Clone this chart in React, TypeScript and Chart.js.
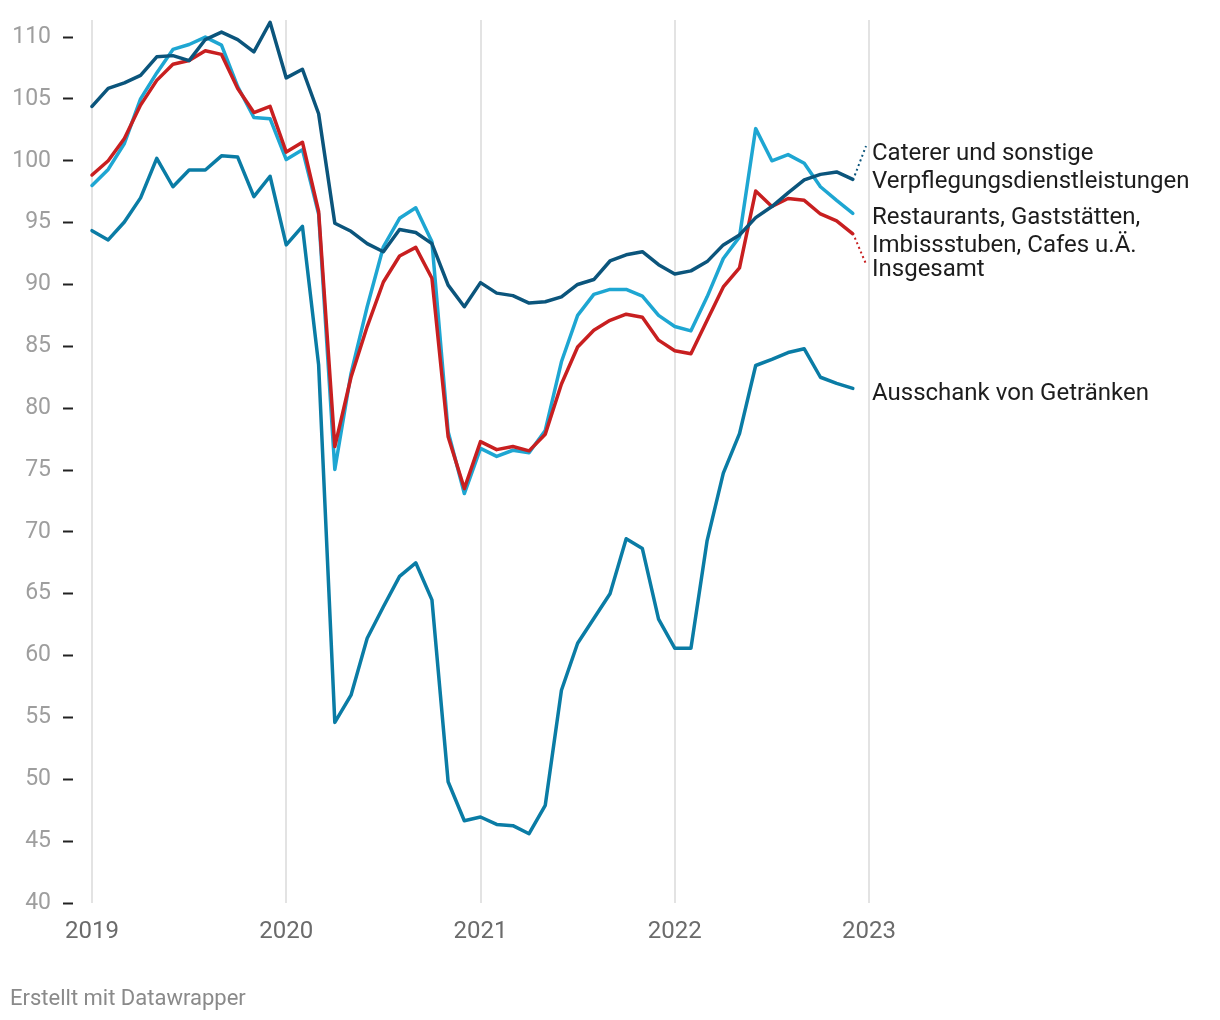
import { useEffect, useRef } from "react";
import { Chart, registerables } from "chart.js";

Chart.register(...registerables);

// Monthly index values, Jan 2019 – Dec 2022 (2015 = 100)
const caterer = [
  104.4, 105.85, 106.3, 106.9, 108.4, 108.5, 108.1, 109.8, 110.4, 109.8, 108.8, 111.2,
  106.7, 107.4, 103.8, 94.95, 94.3, 93.3, 92.65, 94.45, 94.2, 93.3, 89.95, 88.2,
  90.15, 89.3, 89.1, 88.5, 88.6, 89.0, 90.0, 90.4, 91.9, 92.4, 92.65, 91.6,
  90.85, 91.1, 91.85, 93.2, 94.0, 95.4, 96.3, 97.4, 98.45, 98.9, 99.1, 98.5,
];
const restaurants = [
  98.0, 99.3, 101.4, 105.0, 107.1, 109.0, 109.4, 110.0, 109.35, 106.0, 103.5, 103.4,
  100.1, 100.9, 95.7, 75.05, 82.8, 88.2, 93.05, 95.35, 96.2, 93.45, 78.1, 73.1,
  76.75, 76.1, 76.6, 76.4, 78.2, 83.75, 87.5, 89.2, 89.6, 89.6, 89.05, 87.5,
  86.6, 86.25, 89.0, 92.1, 93.85, 102.6, 100.0, 100.5, 99.8, 97.9, 96.8, 95.75,
];
const insgesamt = [
  98.85, 100.0, 101.8, 104.5, 106.5, 107.8, 108.1, 108.9, 108.6, 105.85, 103.9, 104.4,
  100.7, 101.5, 95.9, 76.9, 82.5, 86.6, 90.2, 92.3, 93.0, 90.5, 77.7, 73.5,
  77.3, 76.65, 76.9, 76.55, 77.9, 81.95, 84.95, 86.3, 87.1, 87.6, 87.35, 85.5,
  84.65, 84.4, 87.1, 89.8, 91.35, 97.55, 96.3, 96.95, 96.8, 95.7, 95.15, 94.1,
];
const ausschank = [
  94.35, 93.6, 95.05, 97.0, 100.2, 97.9, 99.25, 99.25, 100.4, 100.3, 97.1, 98.75,
  93.2, 94.7, 83.5, 54.6, 56.8, 61.4, 63.95, 66.4, 67.5, 64.5, 49.8, 46.65,
  46.95, 46.35, 46.25, 45.6, 47.9, 57.2, 61.0, 63.0, 65.0, 69.45, 68.65, 62.95,
  60.6, 60.6, 69.3, 74.75, 77.95, 83.45, 83.95, 84.5, 84.8, 82.5, 82.0, 81.6,
];

const yearLabels = ["2019", "2020", "2021", "2022", "2023"];
const yearTickMonths = [0, 12, 24, 36, 48];

const seriesNames = [
  "Caterer und sonstige Verpflegungsdienstleistungen",
  "Insgesamt",
  "Restaurants, Gaststätten, Imbissstuben, Cafes u.Ä.",
  "Ausschank von Getränken",
];
const seriesColors = ["#0b557c", "#c81f20", "#1ea6d2", "#0a7ca5"];
const seriesValues = [caterer, insgesamt, restaurants, ausschank];

const FONT = "Roboto, 'Noto Sans', sans-serif";

const labelPlugin = {
  id: "labels",
  afterDatasetsDraw(chart: any) {
    const ctx = chart.ctx;
    const area = chart.chartArea;
    ctx.save();
    // dotted connectors
    const connectors: [number, number, number][] = [
      [0, area.right - 3, 146],
      [1, area.right - 3, 264],
    ];
    ctx.lineWidth = 2;
    ctx.setLineDash([2, 3]);
    for (const [di, tx, ty] of connectors) {
      const meta = chart.getDatasetMeta(di);
      const pt = meta.data[meta.data.length - 1];
      ctx.strokeStyle = seriesColors[di];
      ctx.beginPath();
      ctx.moveTo(pt.x + 2, pt.y + (ty < pt.y ? -4 : 4));
      ctx.lineTo(tx, ty);
      ctx.stroke();
    }
    ctx.setLineDash([]);
    ctx.fillStyle = "#1d1d1d";
    ctx.font = `24px ${FONT}`;
    ctx.textAlign = "left";
    ctx.textBaseline = "middle";
    const x = area.right + 3;
    const lines: [string, number][] = [
      ["Caterer und sonstige", 154],
      ["Verpflegungsdienstleistungen", 182],
      ["Restaurants, Gaststätten,", 218],
      ["Imbissstuben, Cafes u.Ä.", 246],
      ["Insgesamt", 270],
      ["Ausschank von Getränken", 394],
    ];
    for (const [t, y] of lines) ctx.fillText(t, x, y);
    ctx.fillStyle = "#8a8a8a";
    ctx.font = `22px ${FONT}`;
    ctx.fillText("Erstellt mit Datawrapper", 10, 999);
    ctx.restore();
  },
};

export default function App() {
  const ref = useRef<HTMLCanvasElement>(null);
  useEffect(() => {
    if (!ref.current) return;
    const chart = new Chart(ref.current, {
      type: "line",
      data: {
        datasets: seriesValues.map((vals, i) => ({
          label: seriesNames[i],
          data: vals.map((v, m) => ({ x: m, y: v })),
          borderColor: seriesColors[i],
          backgroundColor: seriesColors[i],
          borderWidth: 3.5,
          pointRadius: 0,
          tension: 0,
          borderJoinStyle: "round",
          borderCapStyle: "round",
          fill: false,
        })),
      },
      options: {
        animation: false,
        responsive: true,
        maintainAspectRatio: false,
        layout: { padding: { top: 20, right: 351, bottom: 67, left: 0 } },
        plugins: { legend: { display: false }, tooltip: { enabled: false } },
        scales: {
          x: {
            type: "linear",
            min: -19 / 16.1875,
            max: 48,
            afterBuildTicks: (s: any) => {
              s.ticks = yearTickMonths.map((v) => ({ value: v }));
            },
            afterFit: (s: any) => {
              s.height = 50;
              s.paddingLeft = 0;
              s.paddingRight = 0;
            },
            ticks: {
              autoSkip: false,
              maxRotation: 0,
              padding: 15,
              color: "#6b6b6b",
              font: { family: FONT, size: 24 },
              callback: (v: any) => yearLabels[yearTickMonths.indexOf(Number(v))] ?? "",
            },
            grid: { color: "#e3e3e3", lineWidth: 2, drawTicks: false },
            border: { display: false },
          },
          y: {
            min: 40,
            max: 111.38,
            afterFit: (s: any) => {
              s.width = 73;
              s.paddingTop = 0;
              s.paddingBottom = 0;
            },
            ticks: {
              stepSize: 5,
              includeBounds: false,
              padding: 12,
              color: "#9e9e9e",
              font: { family: FONT, size: 23 },
            },
            grid: {
              drawOnChartArea: false,
              drawTicks: true,
              tickLength: 10,
              tickColor: "#222",
              tickWidth: 2,
            },
            border: { display: false },
          },
        },
      },
      plugins: [labelPlugin],
    } as any);
    return () => chart.destroy();
  }, []);
  return (
    <div style={{ position: "absolute", left: 0, top: 0, width: 1220, height: 1020, background: "#fff" }}>
      <canvas ref={ref} />
    </div>
  );
}
